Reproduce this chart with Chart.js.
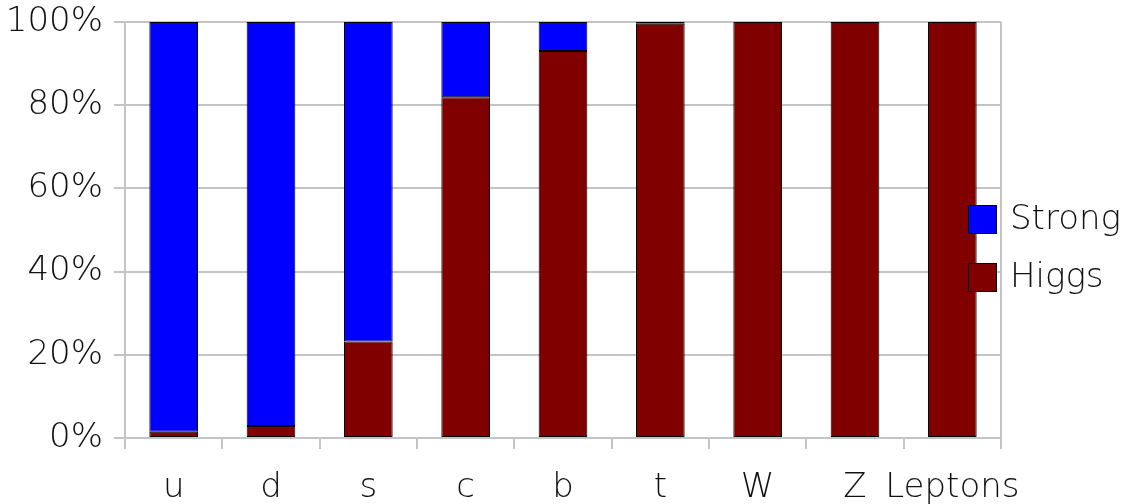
<!DOCTYPE html>
<html>
<head>
<meta charset="utf-8">
<script src="https://cdn.jsdelivr.net/npm/chart.js@4.4.0/dist/chart.umd.min.js"></script>
<style>
  body { margin: 0; background: #fff; }
</style>
</head>
<body>
<canvas id="chart" width="1128" height="504"></canvas>
<script>
const categories = ['u', 'd', 's', 'c', 'b', 't', 'W', 'Z', 'Leptons'];
const higgs = [1.5, 2.9, 23.2, 81.9, 93.0, 99.6, 100, 100, 100];
const strong = [98.5, 97.1, 76.8, 18.1, 7.0, 0.4, 0, 0, 0];

const gridColor = '#c4c4c4';
const textColor = '#111';
const fontFamily = '"DejaVu Sans", sans-serif';
const fontWeight = 200;

// legend sits on top of the plot's right edge, like the original
const overlayLegend = {
  id: 'overlayLegend',
  afterDraw(chart) {
    const ctx = chart.ctx;
    const area = chart.chartArea;
    ctx.save();
    // right border of the plot
    ctx.strokeStyle = gridColor;
    ctx.lineWidth = 2;
    ctx.beginPath();
    ctx.moveTo(area.right, area.top);
    ctx.lineTo(area.right, area.bottom);
    ctx.stroke();

    const items = chart.data.datasets.slice().reverse();
    ctx.font = fontWeight + ' 34px ' + fontFamily;
    ctx.textBaseline = 'middle';
    ctx.textAlign = 'left';
    items.forEach((ds, i) => {
      const cy = 219 + i * 58;
      const bx = 968;
      ctx.fillStyle = ds.backgroundColor;
      ctx.fillRect(bx, cy - 14, 28, 28);
      ctx.strokeStyle = '#000';
      ctx.lineWidth = 1;
      ctx.strokeRect(bx + 0.5, cy - 13.5, 28, 28);
      ctx.fillStyle = textColor;
      ctx.fillText(ds.label, 1010, cy + 1);
    });
    ctx.restore();
  }
};

new Chart(document.getElementById('chart'), {
  type: 'bar',
  data: {
    labels: categories,
    datasets: [
      {
        label: 'Higgs',
        data: higgs,
        backgroundColor: '#800000',
        borderColor: '#000',
        borderWidth: 1,
        borderSkipped: false,
      },
      {
        label: 'Strong',
        data: strong,
        backgroundColor: '#0000ff',
        borderColor: '#000',
        borderWidth: 1,
        borderSkipped: false,
      },
    ],
  },
  options: {
    responsive: false,
    animation: false,
    layout: {
      padding: { top: 22, right: 127, left: 0, bottom: 0 },
    },
    datasets: {
      bar: { categoryPercentage: 1, barPercentage: 0.5 },
    },
    plugins: {
      legend: { display: false },
      tooltip: { enabled: false },
    },
    scales: {
      x: {
        stacked: true,
        afterFit: (scale) => {
          scale.height = 66;
          scale.paddingLeft = 0;
          scale.paddingRight = 0;
        },
        grid: {
          offset: true,
          drawOnChartArea: false,
          color: gridColor,
          lineWidth: 2,
          tickLength: 11,
        },
        border: { color: gridColor, width: 2 },
        ticks: {
          color: textColor,
          padding: 19,
          font: { family: fontFamily, size: 34, weight: fontWeight },
          maxRotation: 0,
          autoSkip: false,
        },
      },
      y: {
        stacked: true,
        min: 0,
        max: 100,
        afterFit: (scale) => {
          scale.width = 125;
          scale.paddingTop = 0;
          scale.paddingBottom = 0;
        },
        grid: {
          color: gridColor,
          lineWidth: 2,
          tickLength: 11,
        },
        border: { color: gridColor, width: 2 },
        ticks: {
          stepSize: 20,
          color: textColor,
          padding: 11,
          font: { family: fontFamily, size: 34, weight: fontWeight },
          callback: (v) => v + '%',
        },
      },
    },
  },
  plugins: [overlayLegend],
});
</script>
</body>
</html>
